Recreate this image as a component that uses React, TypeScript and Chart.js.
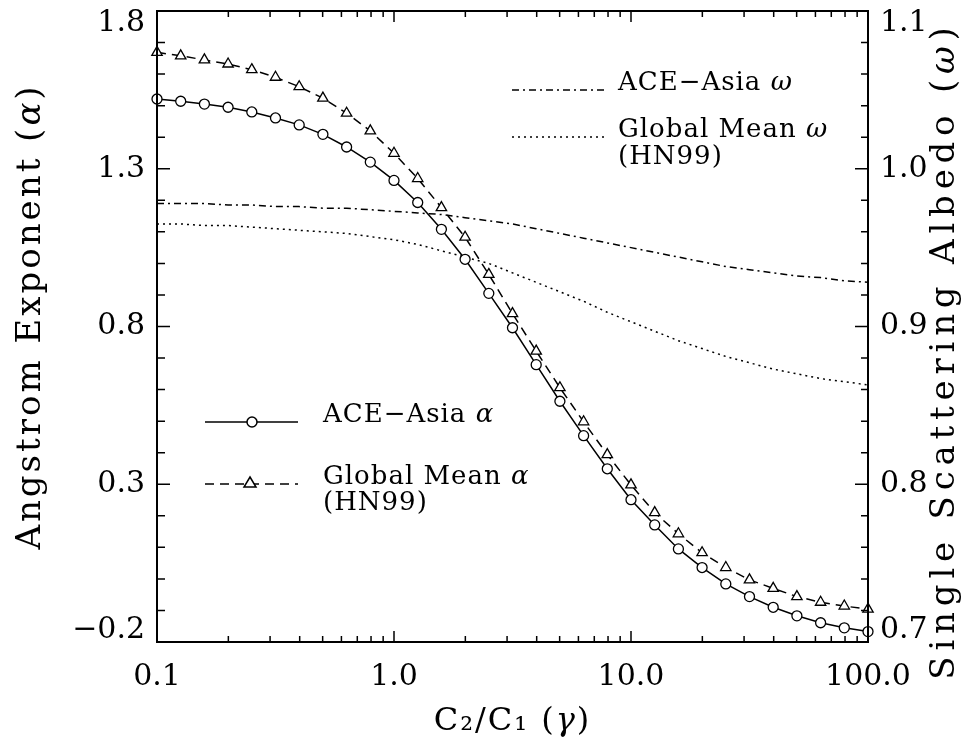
import { useEffect, useRef } from 'react';
import { Chart, registerables } from 'chart.js';

Chart.register(...registerables);

// C2/C1 (gamma) sample points
const GAMMA = [
  0.1, 0.1259, 0.1585, 0.1995, 0.2512, 0.3162, 0.3981, 0.5012, 0.631, 0.7943,
  1.0, 1.259, 1.585, 1.995, 2.512, 3.162, 3.981, 5.012, 6.31, 7.943,
  10.0, 12.59, 15.85, 19.95, 25.12, 31.62, 39.81, 50.12, 63.1, 79.43, 100.0,
];

// Angstrom exponent, ACE-Asia (circles, solid)
const ALPHA_ACE = [
  1.521, 1.514, 1.505, 1.495, 1.48, 1.461, 1.439, 1.409, 1.369, 1.321,
  1.263, 1.193, 1.108, 1.013, 0.905, 0.796, 0.679, 0.563, 0.454, 0.349,
  0.251, 0.171, 0.095, 0.036, -0.016, -0.056, -0.09, -0.117, -0.139, -0.155, -0.167,
];

// Angstrom exponent, Global Mean HN99 (triangles, dashed)
const ALPHA_GLOBAL = [
  1.669, 1.658, 1.645, 1.632, 1.614, 1.59, 1.56, 1.524, 1.476, 1.42,
  1.349, 1.269, 1.177, 1.083, 0.965, 0.841, 0.722, 0.606, 0.498, 0.394,
  0.298, 0.21, 0.143, 0.083, 0.036, -0.003, -0.03, -0.056, -0.074, -0.086, -0.096,
];

// Single scattering albedo, ACE-Asia (dash-dot)
const OMEGA_ACE = [
  0.978, 0.978, 0.978, 0.977, 0.977, 0.976, 0.976, 0.975, 0.975, 0.974,
  0.973, 0.972, 0.971, 0.969, 0.967, 0.965, 0.962, 0.959, 0.956, 0.953,
  0.95, 0.947, 0.944, 0.941, 0.938, 0.936, 0.934, 0.932, 0.931, 0.929, 0.928,
];

// Single scattering albedo, Global Mean HN99 (dotted)
const OMEGA_GLOBAL = [
  0.965, 0.965, 0.964, 0.964, 0.963, 0.962, 0.961, 0.96, 0.959, 0.957,
  0.955, 0.952, 0.948, 0.944, 0.94, 0.934, 0.928, 0.922, 0.916, 0.909,
  0.903, 0.897, 0.891, 0.886, 0.881, 0.877, 0.873, 0.87, 0.867, 0.865, 0.863,
];

const X_MAJOR = [0.1, 1, 10, 100];
const X_MAJOR_LABELS = ['0.1', '1.0', '10.0', '100.0'];
const X_MINOR_MULT = [2, 3, 4, 5, 6, 7, 8, 9];
const Y_LEFT_MIN = -0.2;
const Y_LEFT_MAX = 1.8;
const Y_LEFT_STEP = 0.5;
const Y_LEFT_MINOR = 0.1;
const Y_RIGHT_MIN = 0.7;
const Y_RIGHT_MAX = 1.1;
const Y_RIGHT_STEP = 0.1;
const Y_RIGHT_MINOR = 0.02;

const FAMILY = "'DejaVu Serif', 'Liberation Serif', serif";

type Seg = { t: string; it?: boolean };

function pts(ys: number[]) {
  return GAMMA.map((g, i) => ({ x: g, y: ys[i] }));
}

function fmt(v: number) {
  return v.toFixed(1).replace('-', '\u2212');
}

function setFont(ctx: any, s: Seg, size: number, ls: number) {
  ctx.font = `${s.it ? 'italic ' : ''}${size}px ${FAMILY}`;
  if ('letterSpacing' in ctx) ctx.letterSpacing = `${ls}px`;
}

function segWidth(ctx: CanvasRenderingContext2D, segs: Seg[], size: number, ls: number) {
  let w = 0;
  for (const s of segs) {
    setFont(ctx, s, size, ls);
    w += ctx.measureText(s.t).width;
  }
  return w;
}

function drawSegs(ctx: CanvasRenderingContext2D, segs: Seg[], x: number, y: number, size: number, ls = 0) {
  ctx.textBaseline = 'middle';
  ctx.textAlign = 'left';
  let cx = x;
  for (const s of segs) {
    setFont(ctx, s, size, ls);
    ctx.fillText(s.t, cx, y);
    cx += ctx.measureText(s.t).width;
  }
  if ('letterSpacing' in ctx) (ctx as any).letterSpacing = '0px';
}

function drawRotated(ctx: CanvasRenderingContext2D, segs: Seg[], cx: number, cy: number, size: number, ls: number) {
  const w = segWidth(ctx, segs, size, ls);
  ctx.save();
  ctx.translate(cx, cy);
  ctx.rotate(-Math.PI / 2);
  drawSegs(ctx, segs, -w / 2, 0, size, ls);
  ctx.restore();
}

const framePlugin = {
  id: 'frame',
  afterDraw(chart: any) {
    const ctx: CanvasRenderingContext2D = chart.ctx;
    const { left, right, top, bottom } = chart.chartArea;
    const xs = chart.scales.x;
    const yl = chart.scales.y;
    const yr = chart.scales.y2;
    ctx.save();
    ctx.strokeStyle = '#000';
    ctx.fillStyle = '#000';
    ctx.lineWidth = 2;
    ctx.strokeRect(left, top, right - left, bottom - top);

    ctx.lineWidth = 1.5;
    ctx.beginPath();
    // x ticks (bottom and top, inward)
    X_MAJOR.forEach((d, di) => {
      const px = xs.getPixelForValue(d);
      ctx.moveTo(px, bottom); ctx.lineTo(px, bottom - 11);
      ctx.moveTo(px, top); ctx.lineTo(px, top + 11);
      if (di < X_MAJOR.length - 1) {
        X_MINOR_MULT.forEach((m) => {
          const p = xs.getPixelForValue(m * d);
          ctx.moveTo(p, bottom); ctx.lineTo(p, bottom - 6);
          ctx.moveTo(p, top); ctx.lineTo(p, top + 6);
        });
      }
    });
    // left ticks
    const nl = Math.round((Y_LEFT_MAX - Y_LEFT_MIN) / Y_LEFT_MINOR);
    const perL = Math.round(Y_LEFT_STEP / Y_LEFT_MINOR);
    for (let i = 0; i <= nl; i++) {
      const py = yl.getPixelForValue(Y_LEFT_MIN + i * Y_LEFT_MINOR);
      const len = i % perL === 0 ? 13 : 8;
      ctx.moveTo(left, py); ctx.lineTo(left + len, py);
    }
    // right ticks
    const nr = Math.round((Y_RIGHT_MAX - Y_RIGHT_MIN) / Y_RIGHT_MINOR);
    const perR = Math.round(Y_RIGHT_STEP / Y_RIGHT_MINOR);
    for (let i = 0; i <= nr; i++) {
      const py = yr.getPixelForValue(Y_RIGHT_MIN + i * Y_RIGHT_MINOR);
      const len = i % perR === 0 ? 13 : 7;
      ctx.moveTo(right, py); ctx.lineTo(right - len, py);
    }
    ctx.stroke();

    // axis titles
    drawRotated(ctx, [{ t: 'Angstrom Exponent (' }, { t: '\u03B1', it: true }, { t: ')' }], 31, (top + bottom) / 2 - 10, 34, 3);
    drawRotated(ctx, [{ t: 'Single Scattering Albedo (' }, { t: '\u03C9', it: true }, { t: ')' }], 945, (top + bottom) / 2 + 24, 34, 5.8);
    const xt: Seg[] = [{ t: 'C\u2082/C\u2081 (' }, { t: '\u03B3', it: true }, { t: ')' }];
    const xw = segWidth(ctx, xt, 32, 2);
    drawSegs(ctx, xt, (left + right) / 2 - xw / 2, 722, 32, 2);

    // legends
    const LS = 26;
    ctx.lineWidth = 1.5;
    // ACE-Asia omega: dash-dot
    ctx.setLineDash([7, 4, 2, 4]);
    ctx.beginPath(); ctx.moveTo(512, 90); ctx.lineTo(607, 90); ctx.stroke();
    drawSegs(ctx, [{ t: 'ACE\u2212Asia ' }, { t: '\u03C9', it: true }], 618, 83, LS, 1);
    // Global mean omega: dotted
    ctx.setLineDash([2, 4]);
    ctx.beginPath(); ctx.moveTo(512, 137); ctx.lineTo(607, 137); ctx.stroke();
    drawSegs(ctx, [{ t: 'Global Mean ' }, { t: '\u03C9', it: true }], 618, 130, LS, 1);
    drawSegs(ctx, [{ t: '(HN99)' }], 618, 157, LS, 1);
    // ACE-Asia alpha: solid + circle
    ctx.setLineDash([]);
    ctx.beginPath(); ctx.moveTo(205, 422); ctx.lineTo(298, 422); ctx.stroke();
    ctx.fillStyle = '#fff';
    ctx.beginPath(); ctx.arc(252, 422, 5, 0, Math.PI * 2); ctx.fill(); ctx.stroke();
    ctx.fillStyle = '#000';
    drawSegs(ctx, [{ t: 'ACE\u2212Asia ' }, { t: '\u03B1', it: true }], 323, 415, LS, 1);
    // Global mean alpha: dashed + triangle
    ctx.setLineDash([9, 6]);
    ctx.beginPath(); ctx.moveTo(205, 484); ctx.lineTo(298, 484); ctx.stroke();
    ctx.setLineDash([]);
    ctx.fillStyle = '#fff';
    ctx.beginPath(); ctx.moveTo(250, 477); ctx.lineTo(256, 487); ctx.lineTo(244, 487); ctx.closePath(); ctx.fill(); ctx.stroke();
    ctx.fillStyle = '#000';
    drawSegs(ctx, [{ t: 'Global Mean ' }, { t: '\u03B1', it: true }], 323, 477, LS, 1);
    drawSegs(ctx, [{ t: '(HN99)' }], 323, 503, LS, 1);
    ctx.restore();
  },
};

export default function App() {
  const ref = useRef<HTMLCanvasElement | null>(null);
  useEffect(() => {
    const canvas = ref.current!;
    const tickFont = { family: FAMILY, size: 30 };
    const yTickFont = { family: FAMILY, size: 30, lineHeight: 0.8 };
    const chart = new Chart(canvas, {
      type: 'line',
      data: {
        datasets: [
          {
            label: 'ACE-Asia \u03B1',
            data: pts(ALPHA_ACE),
            yAxisID: 'y',
            borderColor: '#000',
            borderWidth: 1.5,
            pointStyle: 'circle',
            pointRadius: 5,
            pointBackgroundColor: '#fff',
            pointBorderColor: '#000',
            pointBorderWidth: 1.3,
            clip: false,
            tension: 0,
          },
          {
            label: 'Global Mean \u03B1 (HN99)',
            data: pts(ALPHA_GLOBAL),
            yAxisID: 'y',
            borderColor: '#000',
            borderWidth: 1.5,
            borderDash: [9, 6],
            pointStyle: 'triangle',
            pointRadius: 6,
            pointBackgroundColor: '#fff',
            pointBorderColor: '#000',
            pointBorderWidth: 1.3,
            clip: false,
            tension: 0,
          },
          {
            label: 'ACE-Asia \u03C9',
            data: pts(OMEGA_ACE),
            yAxisID: 'y2',
            borderColor: '#000',
            borderWidth: 1.5,
            borderDash: [7, 4, 2, 4],
            pointRadius: 0,
            tension: 0,
          },
          {
            label: 'Global Mean \u03C9 (HN99)',
            data: pts(OMEGA_GLOBAL),
            yAxisID: 'y2',
            borderColor: '#000',
            borderWidth: 1.5,
            borderDash: [2, 4],
            pointRadius: 0,
            tension: 0,
          },
        ],
      },
      options: {
        responsive: false,
        animation: false,
        devicePixelRatio: 1,
        layout: { padding: { top: 11, left: 0, right: 0, bottom: 0 } },
        plugins: { legend: { display: false }, tooltip: { enabled: false } },
        scales: {
          x: {
            type: 'logarithmic',
            position: 'bottom',
            min: 0.1,
            max: 100,
            grid: { display: false, drawTicks: false },
            border: { display: false },
            ticks: {
              autoSkip: false,
              maxRotation: 0,
              padding: 17,
              color: '#000',
              font: tickFont,
              callback: (v: any) => {
                const val = Number(v);
                const i = X_MAJOR.findIndex((m) => Math.abs(m - val) / m < 1e-6);
                return i >= 0 ? X_MAJOR_LABELS[i] : '';
              },
            },
            afterFit: (s: any) => { s.height = 99; s.paddingLeft = 0; s.paddingRight = 0; },
          },
          y: {
            position: 'left',
            min: Y_LEFT_MIN,
            max: Y_LEFT_MAX,
            grid: { display: false, drawTicks: false },
            border: { display: false },
            ticks: {
              stepSize: Y_LEFT_STEP,
              padding: 12,
              color: '#000',
              font: yTickFont,
              callback: (v: any, i: number, ticks: any[]) => {
                const s = fmt(Number(v));
                if (i === 0) return [s, ''];
                if (i === ticks.length - 1) return ['', s];
                return s;
              },
            },
            afterFit: (s: any) => { s.width = 157; s.paddingTop = 0; s.paddingBottom = 0; },
          },
          y2: {
            position: 'right',
            min: Y_RIGHT_MIN,
            max: Y_RIGHT_MAX,
            grid: { display: false, drawTicks: false },
            border: { display: false },
            ticks: {
              stepSize: Y_RIGHT_STEP,
              padding: 12,
              color: '#000',
              font: yTickFont,
              callback: (v: any, i: number, ticks: any[]) => {
                const s = fmt(Number(v));
                if (i === 0) return [s, ''];
                if (i === ticks.length - 1) return ['', s];
                return s;
              },
            },
            afterFit: (s: any) => { s.width = 103; s.paddingTop = 0; s.paddingBottom = 0; },
          },
        },
      },
      plugins: [framePlugin],
    } as any);
    return () => chart.destroy();
  }, []);
  return (
    <div style={{ position: 'fixed', left: 0, top: 0, width: 971, height: 741, background: '#fff' }}>
      <canvas ref={ref} width={971} height={741} />
    </div>
  );
}
